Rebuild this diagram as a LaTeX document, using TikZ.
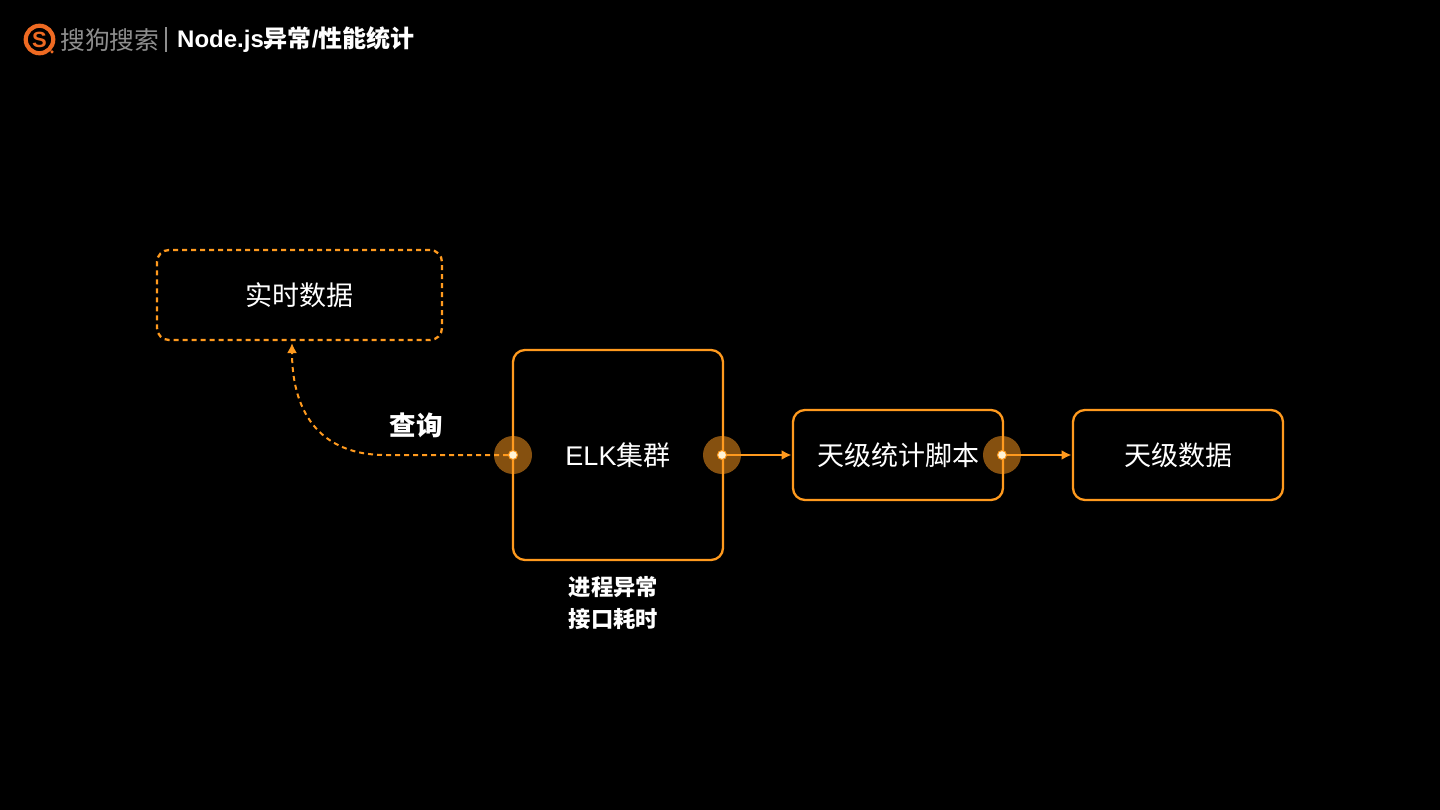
\documentclass[tikz,border=0pt]{standalone}
\usepackage{fontspec}
\setmainfont{Liberation Sans}
\newfontfamily\cjk{Noto Sans CJK SC}
\usetikzlibrary{arrows.meta,calc,positioning}
\definecolor{SlideInk}{HTML}{000000}
\definecolor{FlowOrange}{HTML}{FF9A1E}
\definecolor{LogoOrange}{HTML}{EE6A22}
\definecolor{LogoGrey}{HTML}{8E8E8E}
\definecolor{DotCore}{HTML}{FFF3D6}
\newcommand{\pxfont}[1]{\fontsize{#1}{#1}\selectfont}

\begin{document}
\begin{tikzpicture}[
  x=1pt,
  y=-1pt,
  >=Latex,
  box/.style={rectangle,rounded corners=12pt,draw=FlowOrange,line width=2.3pt,
    minimum width=210pt,minimum height=90pt,inner sep=0pt,outer sep=0pt,
    text=white,font=\pxfont{27}\cjk},
  tempbox/.style={box,dashed,dash pattern=on 5pt off 4pt,minimum width=285pt},
  halo/.style={circle,fill=FlowOrange,fill opacity=0.52,minimum size=38pt,inner sep=0pt},
  dot/.style={circle,fill=DotCore,draw=FlowOrange,line width=1pt,minimum size=9pt,inner sep=0pt},
  edge/.style={-{Latex[length=10pt,width=10pt]},draw=FlowOrange,line width=2pt},
  temp edge/.style={edge,dashed,dash pattern=on 5pt off 4pt},
  label/.style={text=white,font=\pxfont{26.5}\cjk\bfseries,inner sep=0pt},
  note/.style={text=white,font=\pxfont{22.3}\cjk\bfseries,inner sep=0pt}
]
  \useasboundingbox (0,0) rectangle (1440,810);
  \fill[SlideInk] (0,0) rectangle (1440,810);

  % header
  \node[circle,draw=LogoOrange,line width=4.2pt,minimum size=27.5pt,inner sep=0pt,
    text=LogoOrange,font=\pxfont{22}\bfseries] (logo) at (39.5,39.5) {S};
  \node[circle,fill=LogoOrange,minimum size=3.5pt,inner sep=0pt] (logotail) at (52,52) {};
  \node[anchor=west,inner sep=0pt,text=LogoGrey,font=\pxfont{24.8}\cjk] (brand) at (60,40) {搜狗搜索};
  \node[anchor=west,inner sep=0pt,minimum width=2pt,minimum height=25pt,fill=LogoGrey] (bar) at (164.5,40) {};
  \node[anchor=west,inner sep=0pt,text=white,font=\pxfont{24}\bfseries] (title) at (177,40) {Node.js{\cjk 异常}/{\cjk 性能统计}};

  % boxes
  \node[tempbox] (live) at (299.5,295) {实时数据};
  \node[box,minimum height=210pt] (elk) at (618,455) {{\fontspec{Liberation Sans}ELK}集群};
  \node[box] (script) at (898,455) {天级统计脚本};
  \node[box] (daily) at (1178,455) {天级数据};

  \node[note] (noteone) at (613.5,587) {进程异常};
  \node[note] (notetwo) at (613.5,619) {接口耗时};
  \node[label] (query) at (416,425) {查询};

  % ports
  \node[halo] (haloq) at (513,455) {};
  \node[halo] (haloe) at (722,455) {};
  \node[halo] (halos) at (1002,455) {};
  \node[dot] (dotq) at (513,455) {};
  \node[dot] (dote) at (722,455) {};
  \node[dot] (dots) at (1002,455) {};
  \coordinate (liveport) at (292,343);

  \draw[temp edge] (dotq) -- (385,455) .. controls (325,455) and (292,418) .. (liveport);
  \draw[edge,shorten >=1.5pt] (dote) -- (script);
  \draw[edge,shorten >=1.5pt] (dots) -- (daily);
\end{tikzpicture}
\end{document}
